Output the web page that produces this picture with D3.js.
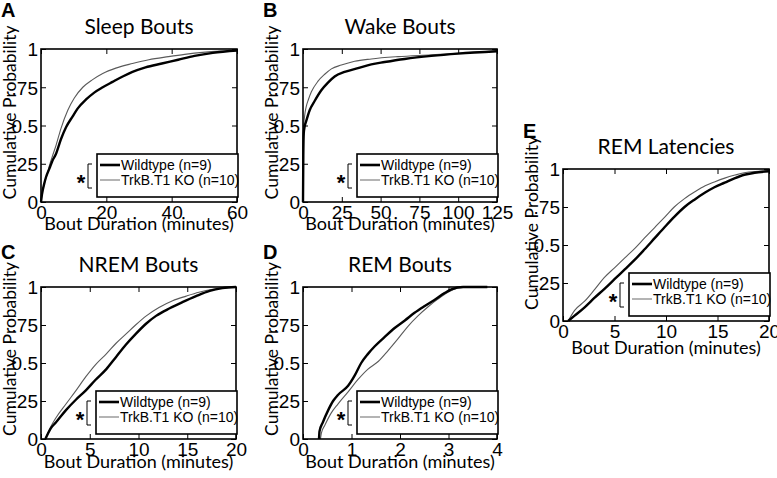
<!DOCTYPE html>
<html>
<head>
<meta charset="utf-8">
<script src="https://cdnjs.cloudflare.com/ajax/libs/d3/7.8.5/d3.min.js"></script>
<style>
  body { margin: 0; background: #fff; }
  svg { display: block; }
</style>
</head>
<body>
<script>
// cumulative probability curves, [minutes, probability]
var sleepWildtype = [[0,0],[0.3,0.05],[1,0.12],[1.5,0.16],[2.6,0.22],[3.5,0.27],[4.5,0.31],[6.1,0.41],[7.7,0.49],[9.7,0.56],[11.2,0.61],[13.8,0.67],[16.3,0.715],[18.9,0.75],[21.9,0.785],[25,0.82],[28,0.85],[32,0.88],[37,0.905],[42,0.93],[47,0.955],[52.6,0.975],[60,0.99]];
var sleepKO = [[0,0],[0.3,0.05],[1,0.12],[2,0.19],[2.6,0.24],[3.5,0.3],[4.6,0.37],[6.1,0.48],[8.2,0.6],[10.2,0.68],[12.8,0.75],[15.8,0.8],[18.9,0.84],[22.9,0.875],[28,0.905],[33,0.93],[39,0.95],[44,0.965],[49.5,0.978],[55,0.986],[60,0.99]];

var wakeWildtype = [[0,0],[0.2,0.3],[0.5,0.45],[1,0.49],[2.1,0.53],[4.3,0.6],[7.5,0.66],[11.8,0.73],[16.1,0.78],[20.4,0.82],[26.8,0.85],[35.4,0.875],[44,0.9],[52.6,0.915],[65.5,0.935],[82.7,0.955],[100,0.97],[125,0.985]];
var wakeKO = [[0,0],[0.2,0.35],[0.5,0.5],[1,0.56],[2,0.62],[3.5,0.67],[5.4,0.72],[9.7,0.79],[14,0.835],[18.3,0.87],[24.7,0.895],[33.3,0.92],[44,0.935],[61.2,0.95],[82.7,0.962],[104,0.975],[125,0.988]];

var nremWildtype = [[0.45,0],[1,0.07],[1.54,0.11],[2.56,0.19],[3.6,0.26],[4.6,0.32],[5.6,0.39],[6.7,0.46],[7.7,0.54],[8.7,0.62],[9.7,0.69],[10.8,0.76],[11.8,0.81],[13.2,0.86],[14.5,0.9],[15.9,0.94],[17.3,0.975],[18.6,0.993],[20,1]];
var nremKO = [[0.45,0],[1,0.08],[1.54,0.14],[2.56,0.23],[3.6,0.32],[4.6,0.41],[5.6,0.49],[6.7,0.56],[7.7,0.63],[8.7,0.69],[9.7,0.75],[10.8,0.81],[12.1,0.865],[13.5,0.91],[14.9,0.94],[16.2,0.965],[17.6,0.985],[20,1]];

var remWildtype = [[0.33,0],[0.34,0.05],[0.41,0.11],[0.52,0.19],[0.62,0.25],[0.72,0.29],[0.93,0.35],[1.07,0.42],[1.2,0.5],[1.34,0.56],[1.48,0.61],[1.68,0.67],[1.89,0.73],[2.1,0.78],[2.3,0.83],[2.51,0.875],[2.71,0.915],[2.92,0.96],[3.06,0.985],[3.3,1],[3.8,1]];
var remKO = [[0.36,0],[0.38,0.04],[0.45,0.09],[0.58,0.17],[0.72,0.23],[0.93,0.31],[1.13,0.39],[1.34,0.46],[1.55,0.51],[1.75,0.58],[1.96,0.66],[2.16,0.74],[2.37,0.81],[2.58,0.87],[2.78,0.92],[2.99,0.965],[3.2,0.993],[3.5,1],[3.8,1]];

var latWildtype = [[0.5,0],[1.13,0.035],[2.1,0.09],[3.1,0.155],[4,0.21],[5,0.275],[6,0.34],[7,0.405],[7.9,0.47],[8.9,0.545],[9.9,0.62],[10.8,0.685],[11.8,0.75],[12.8,0.8],[13.8,0.845],[14.7,0.88],[15.7,0.91],[16.7,0.94],[17.6,0.962],[18.6,0.975],[20,0.985]];
var latKO = [[0.5,0],[1.13,0.07],[2.1,0.13],[3.1,0.21],[4,0.285],[5,0.35],[6,0.415],[7,0.48],[7.9,0.545],[8.9,0.615],[9.9,0.685],[10.8,0.75],[11.8,0.805],[12.8,0.85],[13.8,0.89],[14.7,0.915],[15.7,0.94],[16.7,0.96],[17.6,0.975],[19,0.985],[20,0.99]];

var letters = ['A', 'B', 'C', 'D', 'E'];
var titles = ['Sleep Bouts', 'Wake Bouts', 'NREM Bouts', 'REM Bouts', 'REM Latencies'];
var xTicks = [[0, 20, 40, 60], [0, 25, 50, 75, 100, 125], [0, 5, 10, 15, 20], [0, 1, 2, 3, 4], [0, 5, 10, 15, 20]];
var yTicks = [0, 0.25, 0.5, 0.75, 1];
var yTickLabels = ['0', '.25', '0.5', '.75', '1'];
var seriesNames = ['Wildtype (n=9)', 'TrkB.T1 KO (n=10)'];
var wildtype = [sleepWildtype, wakeWildtype, nremWildtype, remWildtype, latWildtype];
var knockout = [sleepKO, wakeKO, nremKO, remKO, latKO];

var xLabel = 'Bout Duration (minutes)',
    yLabel = 'Cumulative Probability';

// layout: plot boxes [left, top, right, bottom] and per-panel offsets
var boxes = [[41, 49, 237, 202], [303, 49, 497, 202], [41, 287, 236, 439], [303, 287, 497, 439], [563, 169, 769, 321]];
var letterDy = [32, 32, 28, 28, 31],
    xLabelDy = [28, 28, 29, 29, 33],
    yLabelDy = [-13, -13, -14, -14, -22];

var width = 777,
    height = 478,
    legendW = 141,
    legendH = 43,
    tickLen = 5,
    labelFont = 'Lato, "Open Sans", sans-serif',
    numFont = '"Liberation Sans", Arial, sans-serif';

var svg = d3.select('body')
  .append('svg')
    .attr('width', width)
    .attr('height', height);

letters.forEach(function(letter, i) {
  var b = boxes[i],
      left = b[0], top = b[1], right = b[2], bottom = b[3];

  var x = d3.scaleLinear().domain([xTicks[i][0], xTicks[i][xTicks[i].length - 1]]).range([left, right]);
  var y = d3.scaleLinear().domain([0, 1]).range([bottom, top]);

  var g = svg.append('g').attr('class', 'panel');

  var line = d3.line()
    .curve(d3.curveMonotoneX)
    .x(function(d) { return x(d[0]); })
    .y(function(d) { return y(d[1]); });

  g.append('path')
    .datum(knockout[i])
    .attr('d', line)
    .attr('fill', 'none')
    .attr('stroke', '#5a5a5a')
    .attr('stroke-width', 1.1);

  g.append('path')
    .datum(wildtype[i])
    .attr('d', line)
    .attr('fill', 'none')
    .attr('stroke', '#000')
    .attr('stroke-width', 2.4)
    .attr('stroke-linejoin', 'round');

  // axes, ticks pointing inwards on all four sides
  var bottomAxis = g.append('g')
    .attr('transform', 'translate(0,' + bottom + ')')
    .call(d3.axisBottom(x).tickValues(xTicks[i]).tickSize(-tickLen).tickPadding(3)
      .tickFormat(function(d) { return String(d); }));
  var leftAxis = g.append('g')
    .attr('transform', 'translate(' + left + ',0)')
    .call(d3.axisLeft(y).tickValues(yTicks).tickSize(-tickLen).tickPadding(3)
      .tickFormat(function(d, k) { return yTickLabels[k]; }));
  var topAxis = g.append('g')
    .attr('transform', 'translate(0,' + top + ')')
    .call(d3.axisTop(x).tickValues(xTicks[i]).tickSize(-tickLen).tickFormat(''));
  var rightAxis = g.append('g')
    .attr('transform', 'translate(' + right + ',0)')
    .call(d3.axisRight(y).tickValues(yTicks).tickSize(-tickLen).tickFormat(''));

  [bottomAxis, leftAxis, topAxis, rightAxis].forEach(function(a) {
    a.select('.domain').remove();
    a.selectAll('line').attr('stroke', '#000').attr('stroke-width', 1);
    a.attr('font-family', null).attr('font-size', null);
  });
  bottomAxis.selectAll('text')
    .attr('fill', '#000')
    .style('font-family', numFont)
    .style('font-size', '19px');
  leftAxis.selectAll('text')
    .attr('fill', '#000')
    .attr('dy', '0.36em')
    .style('font-family', numFont)
    .style('font-size', '19px');

  g.append('rect')
    .attr('x', left)
    .attr('y', top)
    .attr('width', right - left)
    .attr('height', bottom - top)
    .attr('fill', 'none')
    .attr('stroke', '#000')
    .attr('stroke-width', 1.6);

  // titles and labels
  g.append('text')
    .attr('x', (left + right) / 2)
    .attr('y', top - 15)
    .attr('text-anchor', 'middle')
    .style('font-family', labelFont)
    .style('font-size', '21px')
    .text(titles[i]);

  g.append('text')
    .attr('x', left - 40)
    .attr('y', top - letterDy[i])
    .style('font-family', numFont)
    .style('font-weight', 'bold')
    .style('font-size', '20px')
    .text(letter);

  g.append('text')
    .attr('x', (left + right) / 2)
    .attr('y', bottom + xLabelDy[i])
    .attr('text-anchor', 'middle')
    .style('font-family', labelFont)
    .style('font-size', '18px')
    .text(xLabel);

  g.append('text')
    .attr('transform', 'translate(' + (left - 25) + ',' + ((top + bottom) / 2 + yLabelDy[i]) + ') rotate(-90)')
    .attr('text-anchor', 'middle')
    .style('font-family', labelFont)
    .style('font-size', '17.5px')
    .text(yLabel);

  // legend
  var lx = right + 1 - legendW,
      ly = bottom - 5 - legendH;
  var legend = g.append('g')
    .attr('transform', 'translate(' + lx + ',' + ly + ')');

  legend.append('rect')
    .attr('width', legendW)
    .attr('height', legendH)
    .attr('fill', '#fff')
    .attr('stroke', '#000')
    .attr('stroke-width', 1.6);

  var row = legend.selectAll('.row')
      .data(seriesNames)
      .enter()
    .append('g')
      .attr('class', 'row')
      .attr('transform', function(d, k) { return 'translate(0,' + (11 + k * 15) + ')'; });

  row.append('line')
    .attr('x1', 3)
    .attr('x2', 23)
    .attr('stroke', function(d, k) { return k ? '#777' : '#000'; })
    .attr('stroke-width', function(d, k) { return k ? 1.1 : 2.6; });

  row.append('text')
    .attr('x', 24)
    .attr('y', 5)
    .style('font-family', numFont)
    .style('font-size', '14px')
    .text(function(d) { return d; });

  // significance bracket
  legend.append('path')
    .attr('d', 'M-5,10 H-9 V34 H-5')
    .attr('fill', 'none')
    .attr('stroke', '#000')
    .attr('stroke-width', 1);

  legend.append('text')
    .attr('x', -16)
    .attr('y', 36)
    .attr('text-anchor', 'middle')
    .style('font-family', numFont)
    .style('font-weight', 'bold')
    .style('font-size', '22px')
    .text('*');
});
</script>
</body>
</html>
